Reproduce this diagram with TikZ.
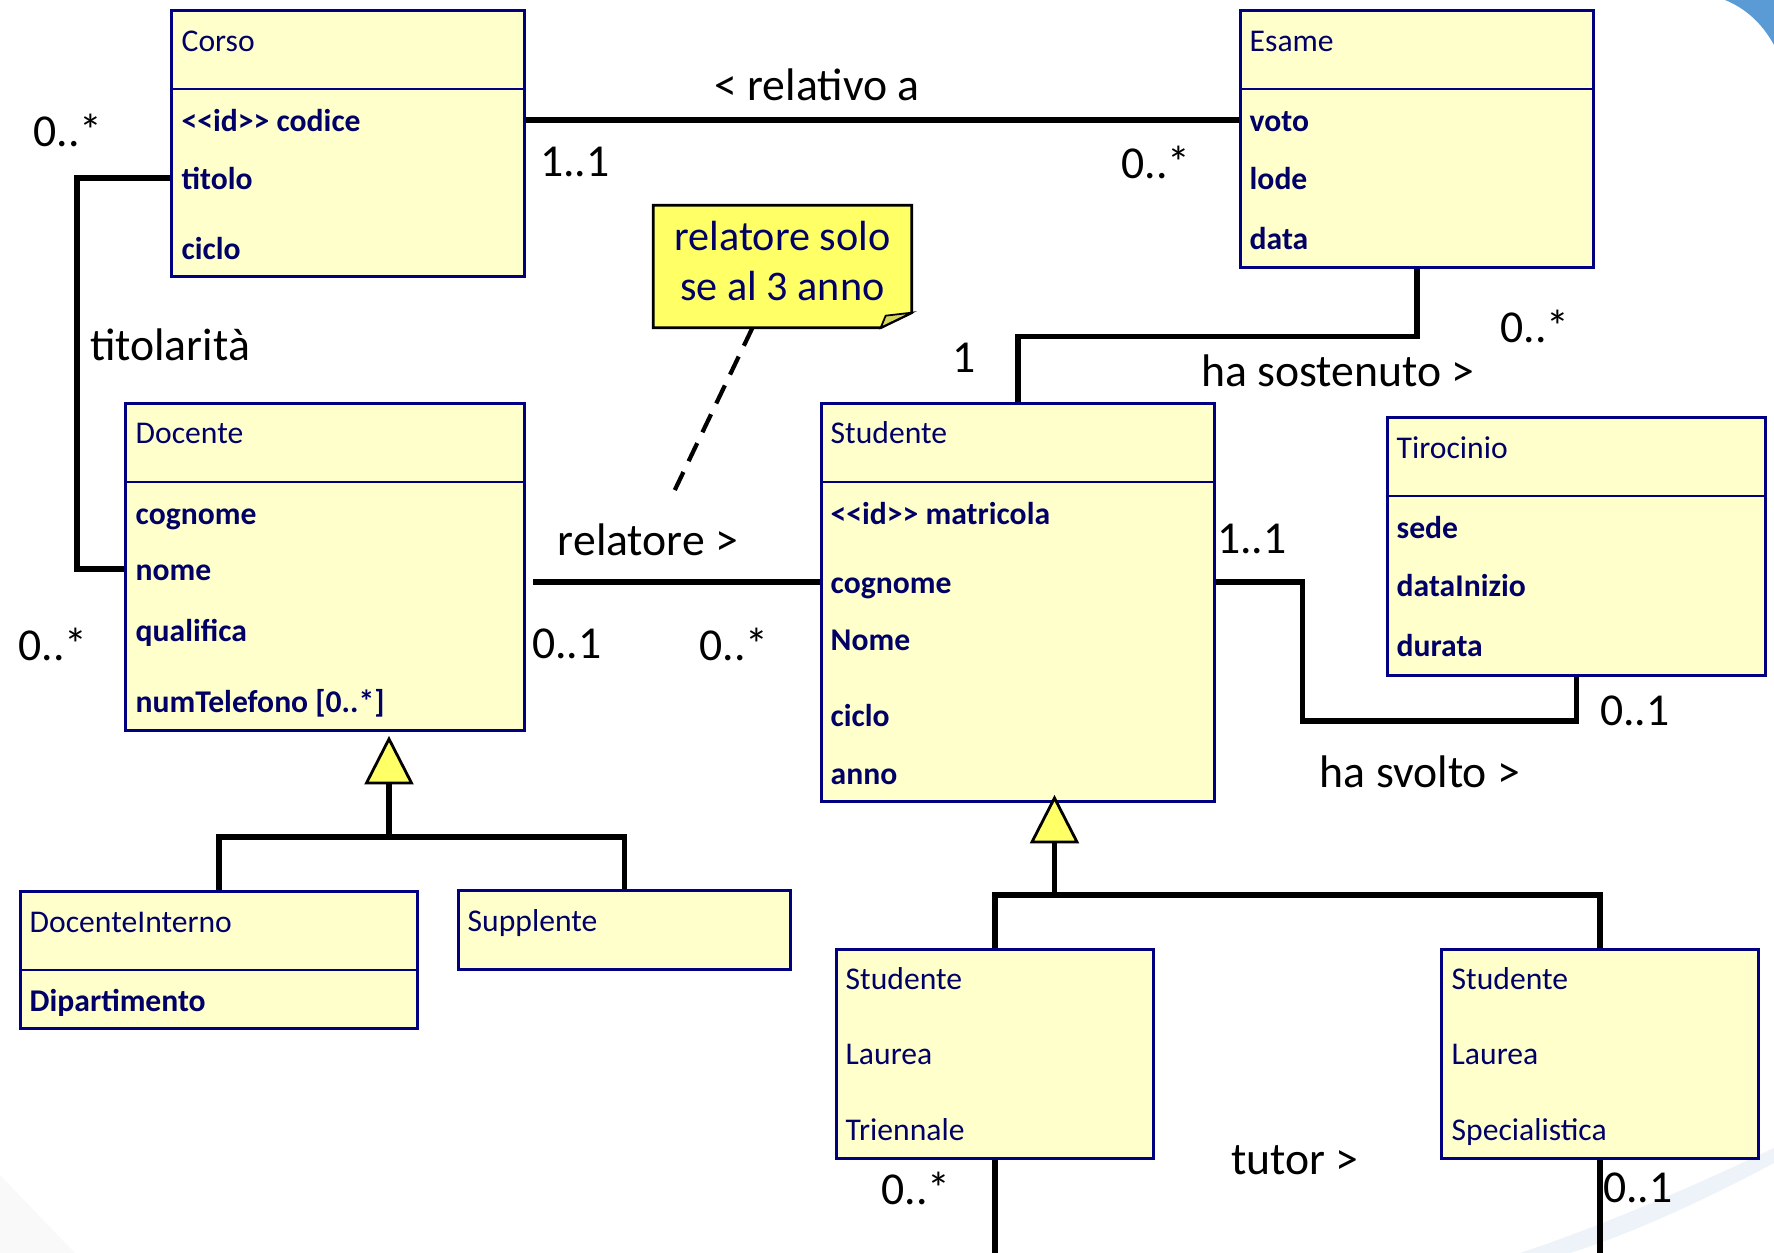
\documentclass[tikz,border=0pt]{standalone}
\usepackage{fontspec}
\setmainfont{Carlito}[Ligatures=TeXOff]
\usetikzlibrary{backgrounds}
\definecolor{umlfill}{HTML}{FFFFCC}
\definecolor{umlline}{HTML}{000080}
\definecolor{umltext}{HTML}{000066}
\definecolor{notefill}{HTML}{FFFF66}
\definecolor{notefold}{HTML}{D6D65C}
\definecolor{swoosh}{HTML}{5B9BD5}
\definecolor{faintblue}{HTML}{EEF3FA}

\begin{document}
\begin{tikzpicture}[
    cls/.style={draw=umlline, line width=0.8pt, fill=umlfill, anchor=north west, inner sep=0pt},
    cname/.style={anchor=west, inner sep=0pt, text=umltext, text height=8.5pt, text depth=2pt, font=\fontsize{9}{11}\selectfont},
    attr/.style={cname, font=\fontsize{9}{11}\selectfont\bfseries},
    mult/.style={inner sep=0pt, font=\fontsize{13}{15}\selectfont},
    sepline/.style={draw=umlline, line width=0.6pt},
    assoc/.style={line width=1.5pt},
    genhead/.style={draw=black, line width=0.8pt, fill=notefill, line join=miter},
    notebox/.style={align=center, text=umltext, inner sep=0pt, text depth=3.2pt, font=\fontsize{12}{14.5}\selectfont,
        minimum width=2.57cm, minimum height=1.21cm},
    dashnote/.style={line width=1.2pt, dash pattern=on 0.2cm off 0.12cm}
]
    \useasboundingbox (0,0) rectangle (17.74,12.53);

    % background decoration
    \fill[swoosh] (17.25,12.53) .. controls (17.45,12.45) and (17.62,12.30) .. (17.74,12.08) -- (17.74,12.53) -- cycle;
    \fill[gray!5] (0,0) -- (0,0.78) -- (0.75,0) -- cycle;
    \fill[faintblue] (15.2,0) .. controls (16.1,0.30) and (17.0,0.70) .. (17.74,1.05) -- (17.74,0.90) .. controls (17.0,0.50) and (16.2,0.15) .. (15.7,0) -- cycle;

    % classes
    \node[cls, minimum width=3.53cm, minimum height=2.66cm] (corso) at (1.70,12.44) {};
    \node[cls, minimum width=3.53cm, minimum height=2.57cm] (esame) at (12.39,12.44) {};
    \node[cls, minimum width=3.99cm, minimum height=3.27cm] (docente) at (1.24,8.51) {};
    \node[cls, minimum width=3.93cm, minimum height=3.98cm] (studente) at (8.20,8.51) {};
    \node[cls, minimum width=3.78cm, minimum height=2.58cm] (tirocinio) at (13.86,8.37) {};
    \node[cls, minimum width=3.97cm, minimum height=1.37cm] (doci) at (0.19,3.63) {};
    \node[cls, minimum width=3.32cm, minimum height=0.79cm] (supp) at (4.57,3.64) {};
    \node[cls, minimum width=3.17cm, minimum height=2.09cm] (slt) at (8.35,3.05) {};
    \node[cls, minimum width=3.17cm, minimum height=2.09cm] (sls) at (14.40,3.05) {};
    \foreach \b in {corso,esame,docente,studente,tirocinio,doci}
        \draw[sepline] ([yshift=-0.8cm]\b.north west) -- ([yshift=-0.8cm]\b.north east);

    % class texts
    \node[cname] (corsoN) at (1.81,12.13) {Corso};
    \node[attr] (codice) at (1.81,11.33) {<<id>> codice};
    \node[attr] (titolo) at (1.81,10.75) {titolo};
    \node[attr] (cicloC) at (1.81,10.05) {ciclo};

    \node[cname] (esameN) at (12.49,12.13) {Esame};
    \node[attr] (voto) at (12.49,11.33) {voto};
    \node[attr] (lode) at (12.49,10.75) {lode};
    \node[attr] (data) at (12.49,10.15) {data};

    \node[cname] (docN) at (1.35,8.21) {Docente};
    \node[attr] (dcog) at (1.35,7.40) {cognome};
    \node[attr] (dnome) at (1.35,6.84) {nome};
    \node[attr] (qualifica) at (1.35,6.23) {qualifica};
    \node[attr] (numtel) at (1.35,5.52) {numTelefono [0..*]};

    \node[cname] (studN) at (8.30,8.21) {Studente};
    \node[attr] (matricola) at (8.30,7.40) {<<id>> matricola};
    \node[attr] (scog) at (8.30,6.71) {cognome};
    \node[attr] (snome) at (8.30,6.14) {Nome};
    \node[attr] (sciclo) at (8.30,5.38) {ciclo};
    \node[attr] (anno) at (8.30,4.80) {anno};

    \node[cname] (tirN) at (13.96,8.06) {Tirocinio};
    \node[attr] (sede) at (13.96,7.26) {sede};
    \node[attr] (datainizio) at (13.96,6.68) {dataInizio};
    \node[attr] (durata) at (13.96,6.08) {durata};

    \node[cname] (dociN) at (0.29,3.32) {DocenteInterno};
    \node[attr] (dipart) at (0.29,2.53) {Dipartimento};
    \node[cname] (suppN) at (4.67,3.33) {Supplente};

    \node[cname] (sltA) at (8.45,2.75) {Studente};
    \node[cname] (sltB) at (8.45,2.00) {Laurea};
    \node[cname] (sltC) at (8.45,1.24) {Triennale};
    \node[cname] (slsA) at (14.51,2.75) {Studente};
    \node[cname] (slsB) at (14.51,2.00) {Laurea};
    \node[cname] (slsC) at (14.51,1.24) {Specialistica};

    % note
    \node[notebox] (nota) at (7.825,9.865) {relatore solo\\se al 3 anno};
    \begin{scope}[on background layer]
        \filldraw[fill=notefill, draw=black, line width=0.8pt] (nota.north west) -- (nota.north east)
            -- ([yshift=0.15cm]nota.south east) -- ([xshift=-0.31cm]nota.south east) -- (nota.south west) -- cycle;
        \filldraw[fill=notefold, draw=black, line width=0.5pt] ([xshift=-0.31cm]nota.south east)
            -- ([xshift=-0.26cm,yshift=0.12cm]nota.south east) -- ([yshift=0.15cm]nota.south east) -- cycle;
    \end{scope}
    \coordinate (notaEnd) at (6.71,7.55);
    \draw[dashnote] ([xshift=-0.30cm]nota.south) -- (notaEnd);

    % associations
    \draw[assoc] (corso.east |- codice.west) -- (esame.west |- voto.west);
    \draw[assoc] (corso.west |- titolo.west) -- ++(-0.93,0) |- (docente.west |- dnome.west);
    \draw[assoc] ([xshift=0.07cm]docente.east |- scog.west) -- (studente.west |- scog.west);
    \draw[assoc] (esame.south) -- ++(0,-0.68) -| (studente.north);
    \draw[assoc] (studente.east |- scog.west) -- ++(0.87,0) -- ++(0,-1.39) -| (tirocinio.south);

    % generalizations
    \coordinate (genD) at (3.89,4.70);
    \draw[assoc] (genD) -- ++(0,-0.54);
    \draw[assoc] (doci.north) -- ++(0,0.53) -| (supp.north);
    \draw[genhead] (genD) -- ++(-0.225,0) -- ++(0.225,0.44) -- ++(0.225,-0.44) -- cycle;

    \coordinate (genS) at (10.545,4.11);
    \draw[assoc] (genS) -- ++(0,-0.53);
    \draw[assoc] (slt.north) -- ++(0,0.53) -| (sls.north);
    \draw[genhead] (genS) -- ++(-0.225,0) -- ++(0.225,0.44) -- ++(0.225,-0.44) -- cycle;

    % tutor
    \path (slt.south) ++(0,-0.96) coordinate (tutL);
    \path (sls.south) ++(0,-0.96) coordinate (tutR);
    \draw[assoc] (slt.south) -- (tutL);
    \draw[assoc] (sls.south) -- (tutR);

    % labels
    \node[mult] (lRel) at (8.17,11.68) {< relativo a};
    \node[mult] (mRelA) at (5.75,10.91) {1..1};
    \node[mult] (mRelB) at (11.56,10.91) {0..*};
    \node[mult] (mTitA) at (0.68,11.23) {0..*};
    \node[mult] (lTit) at (1.70,9.08) {titolarità};
    \node[mult] (mTitB) at (0.53,6.09) {0..*};
    \node[mult] (lRelat) at (6.48,7.13) {relatore >};
    \node[mult] (mRelatA) at (5.67,6.09) {0..1};
    \node[mult] (mRelatB) at (7.34,6.09) {0..*};
    \node[mult] (mSosA) at (9.64,8.95) {1};
    \node[mult] (lSos) at (13.38,8.82) {ha sostenuto >};
    \node[mult] (mSosB) at (15.35,9.27) {0..*};
    \node[mult] (mSvA) at (12.52,7.14) {1..1};
    \node[mult] (mSvB) at (16.35,5.42) {0..1};
    \node[mult] (lSv) at (14.20,4.81) {ha svolto >};
    \node[mult] (lTut) at (12.95,0.93) {tutor >};
    \node[mult] (mTutA) at (9.16,0.65) {0..*};
    \node[mult] (mTutB) at (16.38,0.65) {0..1};
\end{tikzpicture}
\end{document}
